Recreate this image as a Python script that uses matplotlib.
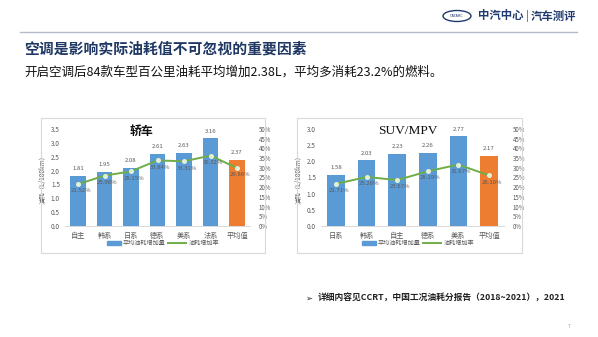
import matplotlib.pyplot as plt
from matplotlib.patches import Rectangle, Ellipse
from matplotlib.ticker import FuncFormatter

plt.rcParams['font.family'] = ['Noto Sans CJK SC', 'DejaVu Sans']

# sedan data
car_cats = ['自主', '韩系', '日系', '德系', '美系', '法系', '平均值']
car_inc = [1.81, 1.95, 2.08, 2.61, 2.63, 3.16, 2.37]
car_rate = [21.52, 25.98, 28.15, 33.84, 33.31, 36.32, 29.86]

# suv / mpv data
suv_cats = ['日系', '韩系', '自主', '德系', '美系', '平均值']
suv_inc = [1.58, 2.03, 2.23, 2.26, 2.77, 2.17]
suv_rate = [21.71, 25.28, 23.67, 28.19, 31.67, 26.10]

blue = '#5B9BD5'
orange = '#ED7D31'
green = '#70AD47'
grey = '#595959'
W, H = 598, 337

fig = plt.figure(figsize=(5.98, 3.37), dpi=100)


def fx(px):
    return px / W


def fy(py):
    return 1 - py / H


############## HEADER ##############
fig.add_artist(Ellipse((fx(457), fy(16)), fx(28), 11 / H, fill=False,
                       edgecolor='#1F3A70', lw=1.0, transform=fig.transFigure))
fig.text(fx(457), fy(16), 'CATARC', fontsize=2.5, color='#1F3A70',
         ha='center', va='center', family='DejaVu Sans')
fig.text(fx(478), fy(16), '中汽中心', fontsize=8.2, color='#1F3A70',
         ha='left', va='center', weight='bold')
fig.text(fx(526), fy(16), '|', fontsize=7, color='#1F3A70', ha='left', va='center')
fig.text(fx(531), fy(16), '汽车测评', fontsize=8.2, color='#1F3A70',
         ha='left', va='center', weight='bold')
fig.add_artist(plt.Line2D([fx(20), fx(577)], [fy(32), fy(32)], color='#B4BACB',
                          lw=1.0, transform=fig.transFigure))

fig.text(fx(24), fy(49), '空调是影响实际油耗值不可忽视的重要因素', fontsize=10.7,
         color='#203864', weight='bold', ha='left', va='center')
fig.text(fx(24), fy(72), '开启空调后84款车型百公里油耗平均增加2.38L，平均多消耗23.2%的燃料。',
         fontsize=9.0, color='#111111', ha='left', va='center')


def draw_chart(cats, inc, rate, left, right, ymax, title, title_x, title_font,
               box, legend_x):
    # light frame around chart
    bx0, by0, bx1, by1 = box
    fig.add_artist(Rectangle((fx(bx0), fy(by1)), fx(bx1 - bx0), (by1 - by0) / H,
                             fill=False, edgecolor='#D9D9D9', lw=0.8,
                             transform=fig.transFigure))
    ax = fig.add_axes([fx(left), fy(226), fx(right - left), 97 / H])
    n = len(cats)
    x = list(range(n))
    colors = [blue] * (n - 1) + [orange]
    ax.bar(x, inc, width=0.58, color=colors, zorder=2)
    ax.set_xlim(-0.5, n - 0.5)
    ax.set_ylim(0, ymax)
    ax.set_yticks([i * 0.5 for i in range(int(ymax / 0.5) + 1)])
    ax.yaxis.set_major_formatter(FuncFormatter(lambda v, p: '%.1f' % v))
    ax.set_xticks(x)
    ax.set_xticklabels(cats)
    ax.tick_params(axis='both', length=0, labelsize=4.6, colors=grey)
    ax.tick_params(axis='x', labelsize=5.2, pad=4)
    for s in ['top', 'right', 'left']:
        ax.spines[s].set_visible(False)
    ax.spines['bottom'].set_color('#D9D9D9')
    ax.spines['bottom'].set_linewidth(0.7)
    ax.set_ylabel('油耗（L/100km）', fontsize=4.6, color=grey, labelpad=3)
    for xi, v in zip(x, inc):
        ax.annotate('%.2f' % v, (xi, v), xytext=(0, 3.5), textcoords='offset points',
                    ha='center', va='bottom', fontsize=4.3, color=grey)

    ax2 = ax.twinx()
    ax2.plot(x, rate, color=green, lw=1.4, marker='o', markersize=2.6,
             markerfacecolor='#E2F0D9', markeredgecolor='#E2F0D9', zorder=3)
    ax2.set_ylim(0, 50)
    ax2.set_yticks(range(0, 51, 5))
    ax2.yaxis.set_major_formatter(FuncFormatter(lambda v, p: '%d%%' % v))
    ax2.tick_params(axis='y', length=0, labelsize=4.4, colors=grey, pad=6)
    for s in ['top', 'right', 'left', 'bottom']:
        ax2.spines[s].set_visible(False)
    for xi, r in zip(x, rate):
        ax2.annotate('%.2f%%' % r, (xi, r), xytext=(2, -3), textcoords='offset points',
                     ha='center', va='top', fontsize=4.3, color=grey)

    fig.text(fx(title_x), fy(131), title, color='#111111',
             ha='center', va='center', **title_font)

    # legend
    lx = legend_x
    fig.add_artist(Rectangle((fx(lx - 53), fy(245)), fx(14), 4 / H, color=blue,
                             transform=fig.transFigure))
    fig.text(fx(lx - 37), fy(243), '平均油耗增加量', fontsize=4.4, color=grey,
             ha='left', va='center')
    fig.add_artist(plt.Line2D([fx(lx + 8), fx(lx + 26)], [fy(243), fy(243)],
                              color=green, lw=1.4, transform=fig.transFigure))
    fig.text(fx(lx + 29), fy(243), '油耗增加率', fontsize=4.4, color=grey,
             ha='left', va='center')


draw_chart(car_cats, car_inc, car_rate, 64.75, 250.25, 3.5, '轿车', 142,
           {'weight': 'bold', 'fontsize': 8.6}, (41, 118, 265, 253), 160)
draw_chart(suv_cats, suv_inc, suv_rate, 320.7, 504.3, 3.0, 'SUV/MPV', 408,
           {'family': 'Liberation Serif', 'fontsize': 9.6}, (297, 118, 522, 253), 415)

############## FOOTNOTE ##############
fig.text(fx(305), fy(298), '➢', fontsize=6, color='#222222', ha='left', va='center',
         family='DejaVu Sans')
fig.text(fx(318), fy(298), '详细内容见CCRT，中国工况油耗分报告（2018~2021），2021',
         fontsize=6.3, color='#222222', ha='left', va='center', weight='bold')
fig.text(fx(569), fy(326), '7', fontsize=3.5, color='#999999', ha='center', va='center')

fig.savefig('out.png', dpi=100)
